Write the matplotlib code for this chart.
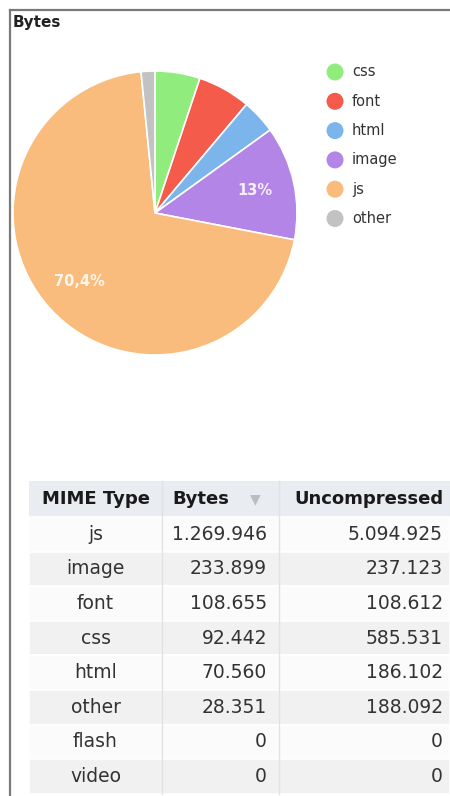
import matplotlib.pyplot as plt
from matplotlib.patches import Rectangle

# data
types = ['css', 'font', 'html', 'image', 'js', 'other']
colors = ['#90ed7d', '#f45b4b', '#7cb5ec', '#b385e6', '#f9bc7d', '#c2c2c2']
bytes_pie = [92442, 108655, 70560, 233899, 1269946, 28351]

table_types = ['js', 'image', 'font', 'css', 'html', 'other', 'flash', 'video']
table_bytes = [1269946, 233899, 108655, 92442, 70560, 28351, 0, 0]
table_uncomp = [5094925, 237123, 108612, 585531, 186102, 188092, 0, 0]
headers = ['MIME Type', 'Bytes', 'Uncompressed']

W, H = 450, 796
fig = plt.figure(figsize=(W / 100, H / 100), dpi=100)
plt.rcParams['font.family'] = ['DejaVu Sans']

# background axes in pixel coordinates
ax0 = fig.add_axes([0, 0, 1, 1])
ax0.set_xlim(0, W)
ax0.set_ylim(H, 0)
ax0.axis('off')

# panel frame (top + left border)
ax0.plot([10, W], [10, 10], color='#7a7a7a', lw=1.6)
ax0.plot([10, 10], [10, H], color='#7a7a7a', lw=1.6)
ax0.text(13, 22, 'Bytes', fontsize=11, fontweight='bold', color='#222222',
         ha='left', va='center')


def pct_label(p):
    if p < 10:
        return ''
    s = f'{p:.1f}'
    if s.endswith('.0'):
        s = s[:-2]
    return s.replace('.', ',') + '%'


# pie
cx, cy, r = 155, 213, 142
ax_pie = fig.add_axes([(cx - r) / W, (H - cy - r) / H, 2 * r / W, 2 * r / H])
wedges, txts, autotexts = ax_pie.pie(
    bytes_pie, colors=colors, startangle=90, counterclock=False,
    autopct=pct_label, pctdistance=0.72,
    wedgeprops=dict(edgecolor='white', linewidth=1.2))
for t in autotexts:
    t.set_color('white')
    t.set_alpha(0.88)
    t.set_fontsize(10.5)
    t.set_fontweight('bold')
ax_pie.set_xlim(-1, 1)
ax_pie.set_ylim(-1, 1)
ax_pie.axis('off')

# legend
for i, (name, c) in enumerate(zip(types, colors)):
    y = 72 + 29.3 * i
    ax0.scatter(335, y, s=150, color=c, edgecolors='none')
    ax0.text(352, y, name, fontsize=10.5, color='#333333', ha='left', va='center')

# table
x0, x1, x2, x3 = 29, 162, 279, W
head_top, head_bot = 481, 517
row_h = 34.6

ax0.add_patch(Rectangle((x0, head_top), x3 - x0, head_bot - head_top,
                        facecolor='#e9ecf0', edgecolor='none'))
ax0.text((x0 + x1) / 2, 499, headers[0], fontsize=13, fontweight='bold',
         color='#1a1a1a', ha='center', va='center')
ax0.text(172, 499, headers[1], fontsize=13, fontweight='bold',
         color='#1a1a1a', ha='left', va='center')
ax0.text(255, 499, '\u25bc', fontsize=10, color='#bdbdbd', ha='center', va='center')
ax0.text(443, 499, headers[2], fontsize=13, fontweight='bold',
         color='#1a1a1a', ha='right', va='center')

for i, (t, b, u) in enumerate(zip(table_types, table_bytes, table_uncomp)):
    top = head_bot + row_h * i
    bg = '#fbfbfb' if i % 2 == 0 else '#f1f1f1'
    ax0.add_patch(Rectangle((x0, top), x3 - x0, row_h, facecolor=bg,
                            edgecolor='white', linewidth=1.2))
    yc = top + row_h / 2
    ax0.text((x0 + x1) / 2, yc, t, fontsize=13.5, color='#333333',
             ha='center', va='center')
    ax0.text(267, yc, f'{b:,}'.replace(',', '.'), fontsize=13.5, color='#333333',
             ha='right', va='center')
    ax0.text(443, yc, f'{u:,}'.replace(',', '.'), fontsize=13.5, color='#333333',
             ha='right', va='center')

for xs in (x1, x2):
    ax0.plot([xs, xs], [head_top, head_bot + row_h * len(table_types)],
             color='#e2e2e2', lw=1)

fig.savefig('out.png', dpi=100)
